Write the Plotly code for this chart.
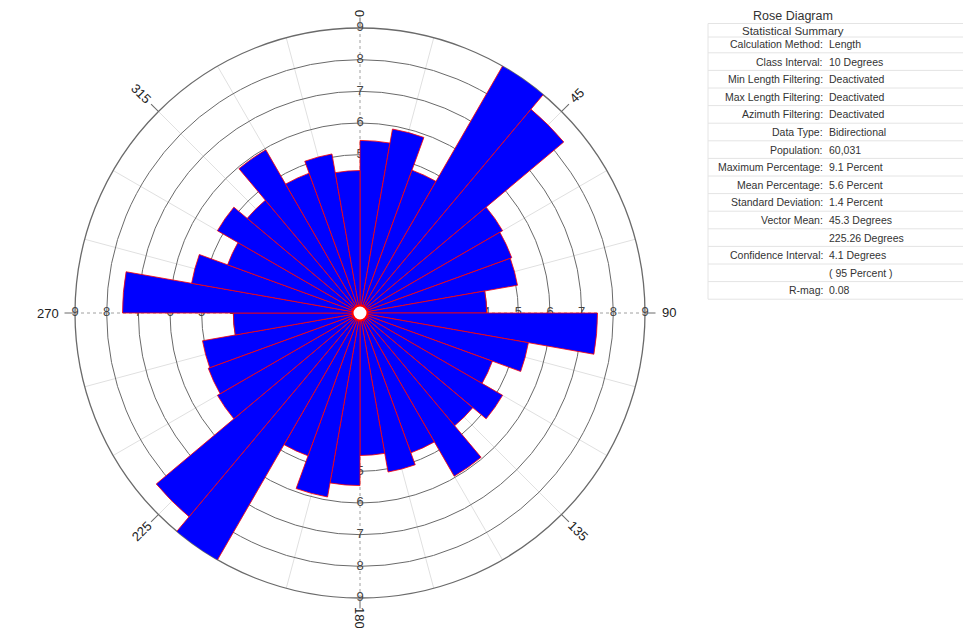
import math
import plotly.graph_objects as go

# ---------------- data ----------------
bin_starts = list(range(0, 360, 10))          # 10-degree classes
percent = [5.45, 5.9, 4.8, 9.1, 8.4, 5.2, 5.1, 5.05, 4.0,
           7.5, 5.4, 4.45, 5.2, 4.65, 5.95, 4.7, 5.1, 4.5,
           5.45, 5.9, 4.8, 9.1, 8.4, 5.2, 5.1, 5.05, 4.0,
           7.5, 5.4, 4.45, 5.2, 4.65, 5.95, 4.7, 5.1, 4.5]
ring_values = [1, 2, 3, 4, 5, 6, 7, 8, 9]
radial_label_angles = [0, 90, 180, 270]
angle_ticks = [0, 45, 90, 135, 180, 225, 270, 315]
angle_tick_text = ["0", "45", "90", "135", "180", "225", "270", "315"]
spoke_angles = [a for a in range(0, 360, 15) if a % 90 != 0]

summary_labels = ["Calculation Method:", "Class Interval:", "Min Length Filtering:",
                  "Max Length Filtering:", "Azimuth Filtering:", "Data Type:",
                  "Population:", "Maximum Percentage:", "Mean Percentage:",
                  "Standard Deviation:", "Vector Mean:", "", "Confidence Interval:",
                  "", "R-mag:"]
summary_values = ["Length", "10 Degrees", "Deactivated", "Deactivated", "Deactivated",
                  "Bidirectional", "60,031", "9.1 Percent", "5.6 Percent", "1.4 Percent",
                  "45.3 Degrees", "225.26 Degrees", "4.1 Degrees", "( 95 Percent )", "0.08"]

# ---------------- geometry / style ----------------
W, H = 971, 628
CX, CY, R = 352, 305, 285
FONT = "Arial, Liberation Sans, sans-serif"
dom = dict(x=[(CX - R) / W, (CX + R) / W], y=[(H - CY - R) / H, (H - CY + R) / H])
theta_centers = [s + 5 for s in bin_starts]

fig = go.Figure()

# base subplot carrying the rings and spokes
fig.add_trace(go.Scatterpolar(r=[], theta=[], mode="lines", subplot="polar",
                              hoverinfo="skip", showlegend=False))

# radial labels (under the bars)
fig.add_trace(go.Scatterpolar(
    r=[v for a in radial_label_angles for v in ring_values],
    theta=[a for a in radial_label_angles for v in ring_values],
    text=[str(v) for a in radial_label_angles for v in ring_values],
    mode="text", textfont=dict(family=FONT, size=13, color="#444"),
    subplot="polar2", hoverinfo="skip", showlegend=False))

# rose bars
fig.add_trace(go.Barpolar(
    r=percent, theta=theta_centers, width=[10] * len(percent),
    marker=dict(color="#0000ff", line=dict(color="#ff0000", width=0.8)),
    subplot="polar3", showlegend=False))

# centre dot
fig.add_trace(go.Scatterpolar(
    r=[0], theta=[0], mode="markers",
    marker=dict(size=15, color="white", line=dict(color="#ff0000", width=2)),
    subplot="polar3", hoverinfo="skip", showlegend=False))

hidden_radial = dict(range=[0, 9], showgrid=False, showticklabels=False,
                     showline=False, ticks="")
fig.update_layout(
    width=W, height=H, margin=dict(l=0, r=0, t=0, b=0),
    paper_bgcolor="white", showlegend=False,
    polar=dict(
        domain=dom, bgcolor="white",
        radialaxis=dict(range=[0, 9], tickvals=ring_values, showticklabels=False,
                        ticks="", showline=False, gridcolor="#6a6a6a", gridwidth=1.3),
        angularaxis=dict(direction="clockwise", rotation=90, tickvals=spoke_angles,
                         showticklabels=False, ticks="", gridcolor="#e0e0e0",
                         showline=True, linecolor="#6a6a6a", linewidth=1.3)),
    polar2=dict(
        domain=dom, bgcolor="rgba(0,0,0,0)",
        radialaxis=hidden_radial,
        angularaxis=dict(direction="clockwise", rotation=90, tickvals=radial_label_angles,
                         showticklabels=False, ticks="", gridcolor="#a0a0a0",
                         griddash="dot", showline=False)),
    polar3=dict(
        domain=dom, bgcolor="rgba(0,0,0,0)",
        radialaxis=hidden_radial,
        angularaxis=dict(direction="clockwise", rotation=90, tickvals=angle_ticks,
                         showticklabels=False, ticks="outside", ticklen=10,
                         tickcolor="#6a6a6a", tickwidth=1.2, showgrid=False,
                         showline=False)),
)

# rotated compass labels
label_offset = {0: 14, 45: 22, 90: 24, 135: 24, 180: 20, 225: 24, 270: 27, 315: 25}
annotations = []
for a, t in zip(angle_ticks, angle_tick_text):
    rr = R + label_offset[a]
    px = CX + rr * math.sin(math.radians(a))
    py = CY - rr * math.cos(math.radians(a))
    ang = a - 90 if a <= 180 else a - 270
    annotations.append(dict(x=px / W, y=1 - py / H, xref="paper", yref="paper",
                            text=t, showarrow=False, textangle=ang, borderpad=0,
                            xanchor="center", yanchor="middle",
                            font=dict(family=FONT, size=13, color="#222")))

# summary table
TX = 785
annotations.append(dict(x=TX / W, y=1 - 8 / H, xref="paper", yref="paper",
                        text="Rose Diagram", showarrow=False, xanchor="center",
                        yanchor="middle", borderpad=0,
                        font=dict(family=FONT, size=12.5, color="#333")))
annotations.append(dict(x=TX / W, y=1 - 22.5 / H, xref="paper", yref="paper",
                        text="Statistical Summary", showarrow=False, xanchor="center",
                        yanchor="middle", borderpad=0,
                        font=dict(family=FONT, size=11.5, color="#333")))
row0, step = 36, 17.6
for i, (lab, val) in enumerate(zip(summary_labels, summary_values)):
    y = 1 - (row0 + i * step) / H
    if lab:
        annotations.append(dict(x=816 / W, y=y, xref="paper", yref="paper", text=lab,
                                showarrow=False, xanchor="right", yanchor="middle",
                                borderpad=0,
                                font=dict(family=FONT, size=10.5, color="#333")))
    annotations.append(dict(x=820 / W, y=y, xref="paper", yref="paper", text=val,
                            showarrow=False, xanchor="left", yanchor="middle",
                            borderpad=0,
                            font=dict(family=FONT, size=10.5, color="#333")))

shapes = []
line_ys = [15.5, 29] + [row0 + step * (i + 0.5) for i in range(len(summary_labels))]
for yy in line_ys:
    shapes.append(dict(type="line", xref="paper", yref="paper",
                       x0=700 / W, x1=1, y0=1 - yy / H, y1=1 - yy / H,
                       line=dict(color="#e4e4e4", width=1)))
shapes.append(dict(type="line", xref="paper", yref="paper", x0=700 / W, x1=700 / W,
                   y0=1 - line_ys[0] / H, y1=1 - line_ys[-1] / H,
                   line=dict(color="#e4e4e4", width=1)))

fig.update_layout(annotations=annotations, shapes=shapes)
fig.write_html("out.html")
